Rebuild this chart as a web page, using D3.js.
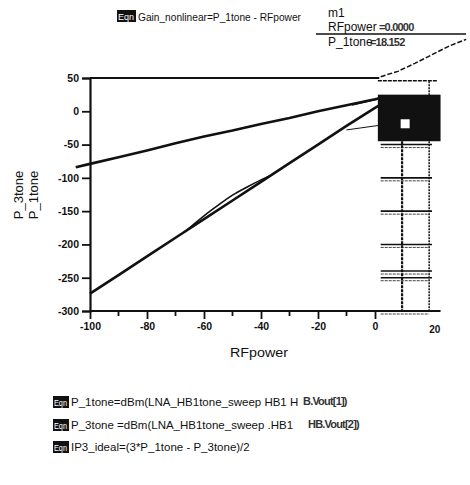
<!DOCTYPE html>
<html>
<head>
<meta charset="utf-8">
<script src="https://cdn.jsdelivr.net/npm/d3@7"></script>
<style>
body { margin: 0; background: #fff; }
text { font-family: "Liberation Sans", Arial, sans-serif; fill: #111; }
</style>
</head>
<body>
<div id="chart"></div>
<script>
// values
const rfPower = [-105, -100, -90, -80, -70, -60, -50, -40, -30, -20, -10, 0, 2];
const p1tone  = [-84, -79, -69, -59, -48, -38, -29, -19, -10, 0, 9, 18, 20];
const p3power = [-100, -90, -80, -70, -60, -50, -40, -30, -20, -10, 0, 2];
const p3tone  = [-274, -246, -218, -190, -162, -134, -106, -78, -50, -22, 5, 10];
const bulgePower = [-67, -60, -55, -50, -45, -40, -37];
const bulgeVals  = [-182, -157, -141, -126, -114, -103, -97];
const thinAPower = [-8, -4, 0, 2];
const thinAVals  = [9, 13, 17, 19];
const thinBPower = [-10, -5, 0, 2];
const thinBVals  = [-28, -25, -22, -21];
const scribPower = [2, 8, 14, 20, 26, 32];
const scribVals  = [52, 60, 72, 85, 98, 108];
const xTicks = [-100, -80, -60, -40, -20, 0];
const xMinor = [-90, -70, -50, -30, -10];
const yTicks = [50, 0, -50, -100, -150, -200, -250, -300];
const sideTicks = [-50, -100, -150, -200, -240, -250, -300];

const width = 470, height = 485;
const svg = d3.select("#chart").append("svg")
    .attr("width", width)
    .attr("height", height);

const x = d3.scaleLinear().domain([-100, 0]).range([90, 375]);
const y = d3.scaleLinear().domain([-300, 50]).range([311, 78]);

const line = d3.line().x(d => x(d[0])).y(d => y(d[1]));

// little black "Eqn" tags
function eqnBox(px, py, w) {
    svg.append("rect").attr("x", px).attr("y", py).attr("width", w).attr("height", 12).attr("fill", "#111");
    svg.append("text").attr("x", px + 1).attr("y", py + 9.5).attr("font-size", 9)
        .attr("textLength", w - 3).attr("lengthAdjust", "spacingAndGlyphs")
        .style("fill", "#fff").text("Eqn");
}
eqnBox(117, 10, 19);
svg.append("text").attr("x", 138).attr("y", 21).attr("font-size", 11.5)
    .attr("textLength", 163).attr("lengthAdjust", "spacingAndGlyphs")
    .text("Gain_nonlinear=P_1tone - RFpower");

// marker readout
svg.append("text").attr("x", 328).attr("y", 17).attr("font-size", 12).text("m1");
svg.append("text").attr("x", 328).attr("y", 31).attr("font-size", 12).text("RFpower");
svg.append("text").attr("x", 379).attr("y", 31).attr("font-size", 11).attr("font-weight", "bold")
    .style("fill", "#333").attr("letter-spacing", -0.8).text("=0.0000");
svg.append("line").attr("x1", 316).attr("x2", 466).attr("y1", 34).attr("y2", 34)
    .attr("stroke", "#111").attr("stroke-width", 1.5);
svg.append("text").attr("x", 328).attr("y", 46).attr("font-size", 12).text("P_1tone");
svg.append("text").attr("x", 370).attr("y", 46).attr("font-size", 11).attr("font-weight", "bold")
    .style("fill", "#333").attr("letter-spacing", -0.8).text("=18.152");

// right side clutter (stacked axis of the marker)
const side = svg.append("g").attr("stroke", "#111");
side.append("rect")
    .attr("x", x(1)).attr("y", y(25))
    .attr("width", x(23) - x(1)).attr("height", y(-45) - y(25))
    .attr("fill", "#111").attr("stroke", "none");
side.append("rect")
    .attr("x", x(9)).attr("y", y(-12))
    .attr("width", 9).attr("height", 9)
    .attr("fill", "#fff").attr("stroke", "none");
side.append("line").attr("x1", x(9.5)).attr("x2", x(9.5)).attr("y1", y(-45)).attr("y2", y(-300))
    .attr("stroke-width", 2.2).attr("stroke-dasharray", "3,1");
side.append("line").attr("x1", x(19)).attr("x2", x(19)).attr("y1", y(45)).attr("y2", y(-300))
    .attr("stroke-width", 1.5).attr("stroke-dasharray", "2,1");
side.selectAll(".st").data(sideTicks).join("line")
    .attr("x1", x(2)).attr("x2", x(20))
    .attr("y1", d => y(d)).attr("y2", d => y(d))
    .attr("stroke-width", 1.6);
side.selectAll(".st2").data(sideTicks).join("line")
    .attr("x1", x(2)).attr("x2", x(19))
    .attr("y1", d => y(d) + 3).attr("y2", d => y(d) + 3)
    .attr("stroke-width", 0.8).attr("stroke-dasharray", "3,1");
side.append("line").attr("x1", x(1)).attr("x2", x(22)).attr("y1", y(46)).attr("y2", y(46))
    .attr("stroke-width", 1.5).attr("stroke-dasharray", "4,1");
side.append("path").datum(d3.zip(scribPower, scribVals))
    .attr("d", line).attr("fill", "none").attr("stroke-width", 1.5).attr("stroke-dasharray", "5,2");

// axes
svg.append("line").attr("x1", x(-100)).attr("x2", x(1.5)).attr("y1", y(50)).attr("y2", y(50))
    .attr("stroke", "#111").attr("stroke-width", 2.2);

const yAxis = svg.append("g")
    .attr("transform", "translate(" + x(-100) + ",0)")
    .call(d3.axisLeft(y).tickValues(yTicks).tickSize(8).tickPadding(3).tickFormat(d => String(d)));
yAxis.select(".domain").attr("stroke-width", 2.2).attr("stroke", "#111");
yAxis.selectAll(".tick line").attr("stroke-width", 1.8).attr("stroke", "#111");
yAxis.selectAll("text").attr("font-size", 10.5).attr("font-weight", "bold")
    .style("font-family", "'Liberation Sans', Arial, sans-serif").style("fill", "#111");

const xAxis = svg.append("g")
    .attr("transform", "translate(0," + y(-300) + ")")
    .call(d3.axisBottom(x).tickValues(xTicks).tickSize(8).tickPadding(4).tickFormat(d => String(d)));
xAxis.select(".domain").remove();
xAxis.selectAll(".tick line").attr("stroke-width", 1.8).attr("stroke", "#111");
xAxis.selectAll("text").attr("font-size", 10.5).attr("font-weight", "bold")
    .style("font-family", "'Liberation Sans', Arial, sans-serif").style("fill", "#111");
svg.append("line").attr("x1", x(-100)).attr("x2", x(23)).attr("y1", y(-300)).attr("y2", y(-300))
    .attr("stroke", "#111").attr("stroke-width", 2.2);
svg.append("g").selectAll("line").data(xMinor).join("line")
    .attr("x1", d => x(d)).attr("x2", d => x(d))
    .attr("y1", y(-300)).attr("y2", y(-300) + 5)
    .attr("stroke", "#111").attr("stroke-width", 1.8);
svg.append("text").attr("x", x(21)).attr("y", 333).attr("font-size", 10).attr("font-weight", "bold")
    .attr("text-anchor", "middle").text("20");

// curves
const curves = svg.append("g").attr("fill", "none").attr("stroke", "#111");
curves.append("path").datum(d3.zip(rfPower, p1tone)).attr("d", line).attr("stroke-width", 2.6);
curves.append("path").datum(d3.zip(p3power, p3tone)).attr("d", line).attr("stroke-width", 2.6);
curves.append("path").datum(d3.zip(bulgePower, bulgeVals)).attr("d", line.curve(d3.curveMonotoneX)).attr("stroke-width", 1.6);
line.curve(d3.curveLinear);
curves.append("path").datum(d3.zip(thinAPower, thinAVals)).attr("d", line).attr("stroke-width", 1);
curves.append("path").datum(d3.zip(thinBPower, thinBVals)).attr("d", line).attr("stroke-width", 1);

// axis titles
svg.append("text").attr("transform", "translate(23,195) rotate(-90)")
    .attr("text-anchor", "middle").attr("font-size", 13).text("P_3tone");
svg.append("text").attr("transform", "translate(38,195) rotate(-90)")
    .attr("text-anchor", "middle").attr("font-size", 13).text("P_1tone");
svg.append("text").attr("x", 230).attr("y", 357)
    .attr("font-size", 12.5).attr("textLength", 58).attr("lengthAdjust", "spacingAndGlyphs")
    .text("RFpower");

// equations below the plot
eqnBox(53, 396, 16);
svg.append("text").attr("x", 71).attr("y", 406).attr("font-size", 11.5)
    .text("P_1tone=dBm(LNA_HB1tone_sweep  HB1 H");
svg.append("text").attr("x", 303).attr("y", 405).attr("font-size", 11).attr("font-weight", "bold")
    .style("fill", "#333").attr("letter-spacing", -0.8).text("B.Vout[1])");
eqnBox(53, 419, 16);
svg.append("text").attr("x", 71).attr("y", 429).attr("font-size", 11.5)
    .text("P_3tone =dBm(LNA_HB1tone_sweep .HB1");
svg.append("text").attr("x", 308).attr("y", 428).attr("font-size", 11).attr("font-weight", "bold")
    .style("fill", "#333").attr("letter-spacing", -0.8).text("HB.Vout[2])");
eqnBox(53, 441, 16);
svg.append("text").attr("x", 71).attr("y", 451).attr("font-size", 11.5)
    .text("IP3_ideal=(3*P_1tone - P_3tone)/2");
</script>
</body>
</html>
